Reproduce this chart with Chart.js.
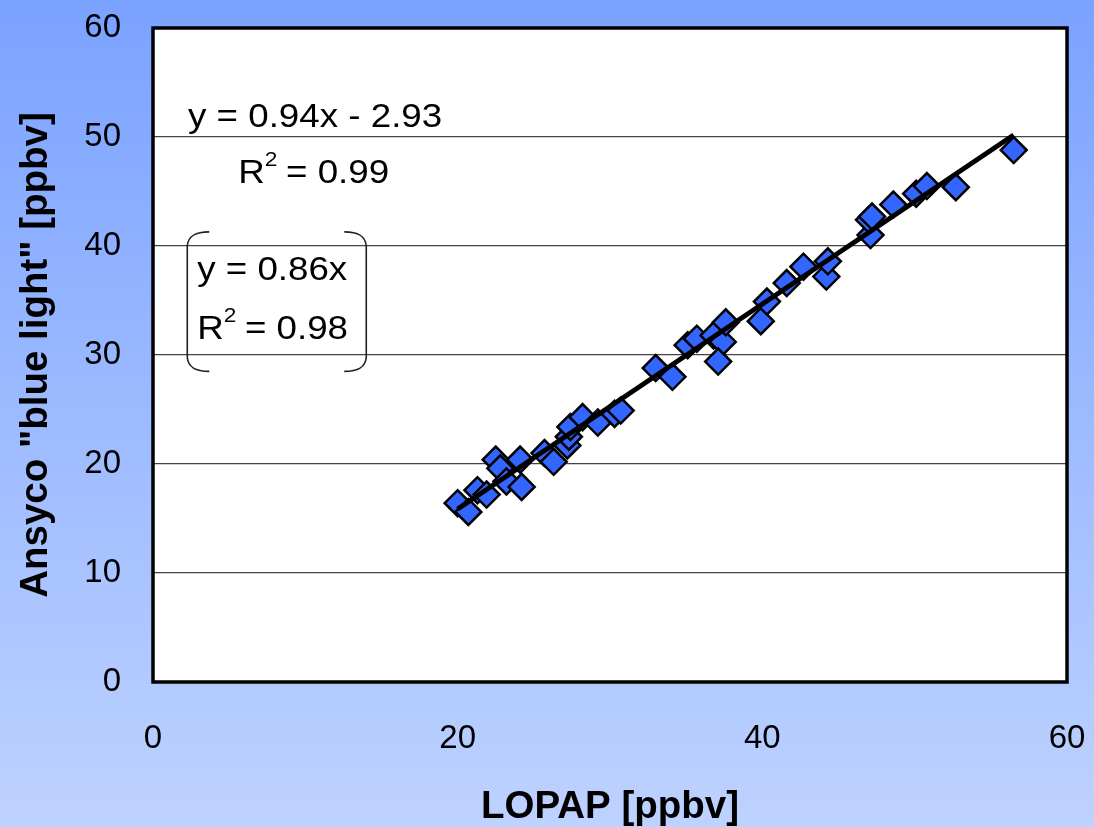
<!DOCTYPE html>
<html>
<head>
<meta charset="utf-8">
<script src="https://cdn.jsdelivr.net/npm/chart.js@4.4.1/dist/chart.umd.min.js"></script>
<style>
  html, body { margin: 0; padding: 0; background: #ffffff; }
  canvas { display: block; }
</style>
</head>
<body>
<canvas id="chart" width="1094" height="827"></canvas>
<script>
// LOPAP vs. Ansyco "blue light" HONO intercomparison (ppbv)
const lopap = [
  20.0, 20.7, 21.3, 21.9, 22.5, 22.8, 23.2, 24.1, 24.2, 25.7,
  26.3, 27.2, 27.3, 27.4, 28.2, 29.2, 30.3, 30.7, 33.0, 34.1,
  35.1, 35.7, 36.8, 37.4, 37.1, 37.6, 39.9, 40.3, 41.6, 42.7,
  44.2, 44.3, 47.1, 47.0, 47.2, 48.6, 50.1, 50.8, 52.7, 56.5
];
const ansyco = [
  16.4, 15.6, 17.6, 17.2, 20.4, 19.6, 18.4, 20.4, 17.9, 21.0,
  20.2, 21.7, 22.5, 23.4, 24.3, 23.8, 24.6, 24.9, 28.8, 28.0,
  30.9, 31.5, 31.8, 31.2, 29.4, 33.0, 33.1, 34.9, 36.6, 38.1,
  37.2, 38.6, 41.0, 42.4, 42.7, 43.8, 44.8, 45.5, 45.4, 48.8
];
const xTickValues = [0, 20, 40, 60];
const yTickValues = [0, 10, 20, 30, 40, 50, 60];

// Linear fit stated on the chart: y = 0.94x - 2.93
const fitSlope = 0.94;
const fitIntercept = -2.93;

const points = lopap.map((x, i) => ({ x: x, y: ansyco[i] }));
const xMin = Math.min(...lopap);
const xMax = Math.max(...lopap);
const fitLine = [
  { x: xMin, y: fitSlope * xMin + fitIntercept },
  { x: xMax, y: fitSlope * xMax + fitIntercept }
];

const FONT = '"Liberation Sans", Arial, sans-serif';

// Blue gradient page background and white plot area
const backgroundPlugin = {
  id: 'pageBackground',
  beforeDraw(chart) {
    const { ctx, width, height, chartArea: a } = chart;
    ctx.save();
    const g = ctx.createLinearGradient(0, 0, 0, height);
    g.addColorStop(0, '#7aa2ff');
    g.addColorStop(1, '#bed2ff');
    ctx.fillStyle = g;
    ctx.fillRect(0, 0, width, height);
    ctx.fillStyle = '#ffffff';
    ctx.fillRect(a.left, a.top, a.right - a.left, a.bottom - a.top);
    ctx.restore();
  }
};

// Black frame around the plot area
const framePlugin = {
  id: 'plotFrame',
  afterDatasetsDraw(chart) {
    const { ctx, chartArea: a } = chart;
    ctx.save();
    ctx.strokeStyle = '#000000';
    ctx.lineWidth = 3.5;
    ctx.strokeRect(a.left, a.top, a.right - a.left, a.bottom - a.top);
    ctx.restore();
  }
};

// Regression equations, placed in data coordinates
const equationPlugin = {
  id: 'equations',
  afterDraw(chart) {
    const { ctx } = chart;
    const xs = chart.scales.x, ys = chart.scales.y;
    const px = v => xs.getPixelForValue(v);
    const py = v => ys.getPixelForValue(v);
    const stretch = 1.08;

    function text(str, x, y, size) {
      ctx.save();
      ctx.translate(x, y);
      ctx.scale(stretch, 1);
      ctx.font = size + 'px ' + FONT;
      ctx.fillStyle = '#000000';
      ctx.textBaseline = 'middle';
      ctx.textAlign = 'left';
      ctx.fillText(str, 0, 0);
      const w = ctx.measureText(str).width * stretch;
      ctx.restore();
      return w;
    }
    function rSquared(value, x, y) {
      let w = text('R', x, y, 34);
      text('2', x + w, y - 14, 21);
      text(' = ' + value, x + w + 11, y, 34);
    }

    text('y = 0.94x - 2.93', px(2.3), py(51.8), 34);
    rSquared('0.99', px(5.6), py(46.6));
    text('y = 0.86x', px(2.9), py(37.7), 34);
    rSquared('0.98', px(2.9), py(32.3));

    // curly bracket pair around the second equation
    const l = px(2.25), r = px(14.0), t = py(41.3), b = py(28.5);
    ctx.save();
    ctx.strokeStyle = '#222222';
    ctx.lineWidth = 1.6;
    ctx.beginPath();
    ctx.moveTo(l + 22, t);
    ctx.bezierCurveTo(l + 8, t, l + 1, t + 4, l, t + 14);
    ctx.lineTo(l, b - 14);
    ctx.bezierCurveTo(l + 1, b - 4, l + 8, b, l + 22, b);
    ctx.moveTo(r - 22, t);
    ctx.bezierCurveTo(r - 8, t, r - 1, t + 4, r, t + 14);
    ctx.lineTo(r, b - 14);
    ctx.bezierCurveTo(r - 1, b - 4, r - 8, b, r - 22, b);
    ctx.stroke();
    ctx.restore();
  }
};

new Chart(document.getElementById('chart'), {
  type: 'scatter',
  data: {
    datasets: [
      {
        type: 'line',
        label: 'fit',
        data: fitLine,
        borderColor: '#000000',
        borderWidth: 5,
        pointRadius: 0,
        fill: false,
        order: 0
      },
      {
        label: 'LOPAP vs Ansyco',
        data: points,
        pointStyle: 'rectRot',
        pointRadius: 13,
        pointHoverRadius: 13,
        backgroundColor: '#3366ff',
        borderColor: '#000000',
        pointBorderWidth: 2.5,
        order: 1
      }
    ]
  },
  options: {
    responsive: false,
    animation: false,
    layout: { padding: { top: 28, right: 27, left: 0, bottom: 0 } },
    plugins: {
      legend: { display: false },
      tooltip: { enabled: false }
    },
    scales: {
      x: {
        type: 'linear',
        min: 0,
        max: 60,
        afterBuildTicks(scale) { scale.ticks = xTickValues.map(v => ({ value: v })); },
        afterFit(scale) {
          scale.height = 145;
          scale.paddingLeft = 0;
          scale.paddingRight = 0;
        },
        grid: { display: false, drawTicks: false },
        border: { display: false },
        ticks: {
          color: '#000000',
          padding: 37,
          font: { family: FONT, size: 33 }
        },
        title: {
          display: true,
          text: 'LOPAP [ppbv]',
          color: '#000000',
          font: { family: FONT, size: 38.5, weight: 'bold' },
          padding: { top: 0, bottom: -3 }
        }
      },
      y: {
        type: 'linear',
        min: 0,
        max: 60,
        afterBuildTicks(scale) { scale.ticks = yTickValues.map(v => ({ value: v })); },
        afterFit(scale) {
          scale.width = 153;
          scale.paddingTop = 0;
          scale.paddingBottom = 0;
        },
        grid: {
          drawTicks: false,
          color: ctx => (ctx.tick && (ctx.tick.value === 0 || ctx.tick.value === 60)) ? 'rgba(0,0,0,0)' : '#444444',
          lineWidth: 1.2
        },
        border: { display: false },
        ticks: {
          color: '#000000',
          padding: 32,
          font: { family: FONT, size: 33 }
        },
        title: {
          display: true,
          text: 'Ansyco "blue light" [ppbv]',
          color: '#000000',
          font: { family: FONT, size: 38.5, weight: 'bold' },
          padding: { top: 13, bottom: 0 }
        }
      }
    }
  },
  plugins: [backgroundPlugin, framePlugin, equationPlugin]
});
</script>
</body>
</html>
